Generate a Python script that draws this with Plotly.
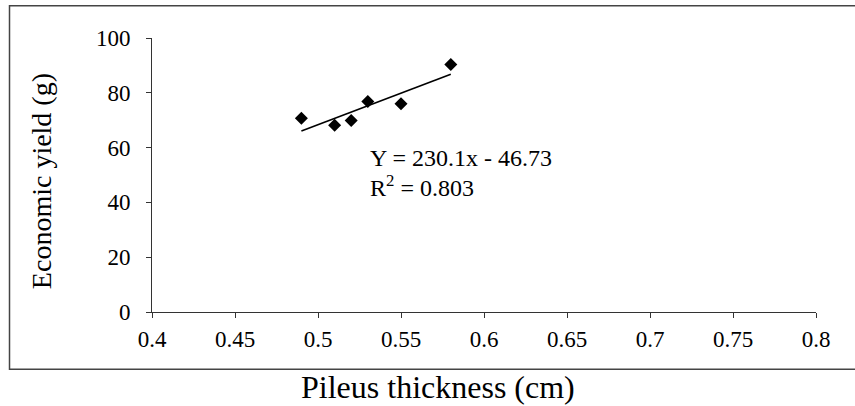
import plotly.graph_objects as go

# Data
thickness = [0.49, 0.51, 0.52, 0.53, 0.55, 0.58]
yield_g = [70.7, 68.2, 69.9, 76.8, 76.0, 90.3]
slope = 230.1
intercept = -46.73
r2 = 0.803
x_ticks = [0.4, 0.45, 0.5, 0.55, 0.6, 0.65, 0.7, 0.75, 0.8]
x_tick_text = ["0.4", "0.45", "0.5", "0.55", "0.6", "0.65", "0.7", "0.75", "0.8"]
y_ticks = [0, 20, 40, 60, 80, 100]

fit_x = [min(thickness), max(thickness)]
fit_y = [slope * v + intercept for v in fit_x]

FONT = "Liberation Serif, Times New Roman, Times, serif"

fig = go.Figure()
fig.add_trace(go.Scatter(x=thickness, y=yield_g, mode="markers",
                         marker=dict(symbol="diamond", size=10, color="black"),
                         showlegend=False))
fig.add_trace(go.Scatter(x=fit_x, y=fit_y, mode="lines",
                         line=dict(color="black", width=1.6), showlegend=False))

fig.update_layout(
    width=855, height=406,
    margin=dict(l=152, r=39, t=38, b=94),
    paper_bgcolor="white", plot_bgcolor="white",
    font=dict(family=FONT, color="black"),
    xaxis=dict(range=[0.4, 0.8], tickvals=x_ticks, ticktext=x_tick_text,
               showline=True, linecolor="#333", linewidth=1, ticks="outside",
               ticklen=5, tickcolor="#333", showgrid=False, zeroline=False,
               ticklabelstandoff=1,
               tickfont=dict(size=23, family=FONT, color="black")),
    yaxis=dict(range=[0, 100], tickvals=y_ticks,
               showline=True, linecolor="#333", linewidth=1, ticks="outside",
               ticklen=5, tickcolor="#333", showgrid=False, zeroline=False,
               ticklabelstandoff=11,
               tickfont=dict(size=23, family=FONT, color="black")),
    shapes=[dict(type="rect", xref="paper", yref="paper",
                 x0=-0.2146, x1=1.07, y0=-0.209, y1=1.118,
                 line=dict(color="#444", width=1.5))],
    annotations=[
        dict(text="Y = 230.1x - 46.73", x=0.530, y=56.3, xref="x", yref="y",
             xanchor="left", yanchor="middle", showarrow=False,
             font=dict(size=24, family=FONT)),
        dict(text="R<sup>2</sup> = 0.803", x=0.530, y=46.0, xref="x", yref="y",
             xanchor="left", yanchor="middle", showarrow=False,
             font=dict(size=24, family=FONT)),
        dict(text="Pileus thickness (cm)", x=0.4306, y=-0.274, xref="paper", yref="paper",
             xanchor="center", yanchor="middle", showarrow=False,
             font=dict(size=32, family=FONT)),
        dict(text="Economic yield (g)", x=-0.167, y=0.478, xref="paper", yref="paper",
             xanchor="center", yanchor="middle", showarrow=False, textangle=-90,
             font=dict(size=28, family=FONT)),
    ],
)

fig.write_html("out.html", config={"displayModeBar": False},
               post_script="document.body.style.margin='0';document.body.style.padding='0';")
